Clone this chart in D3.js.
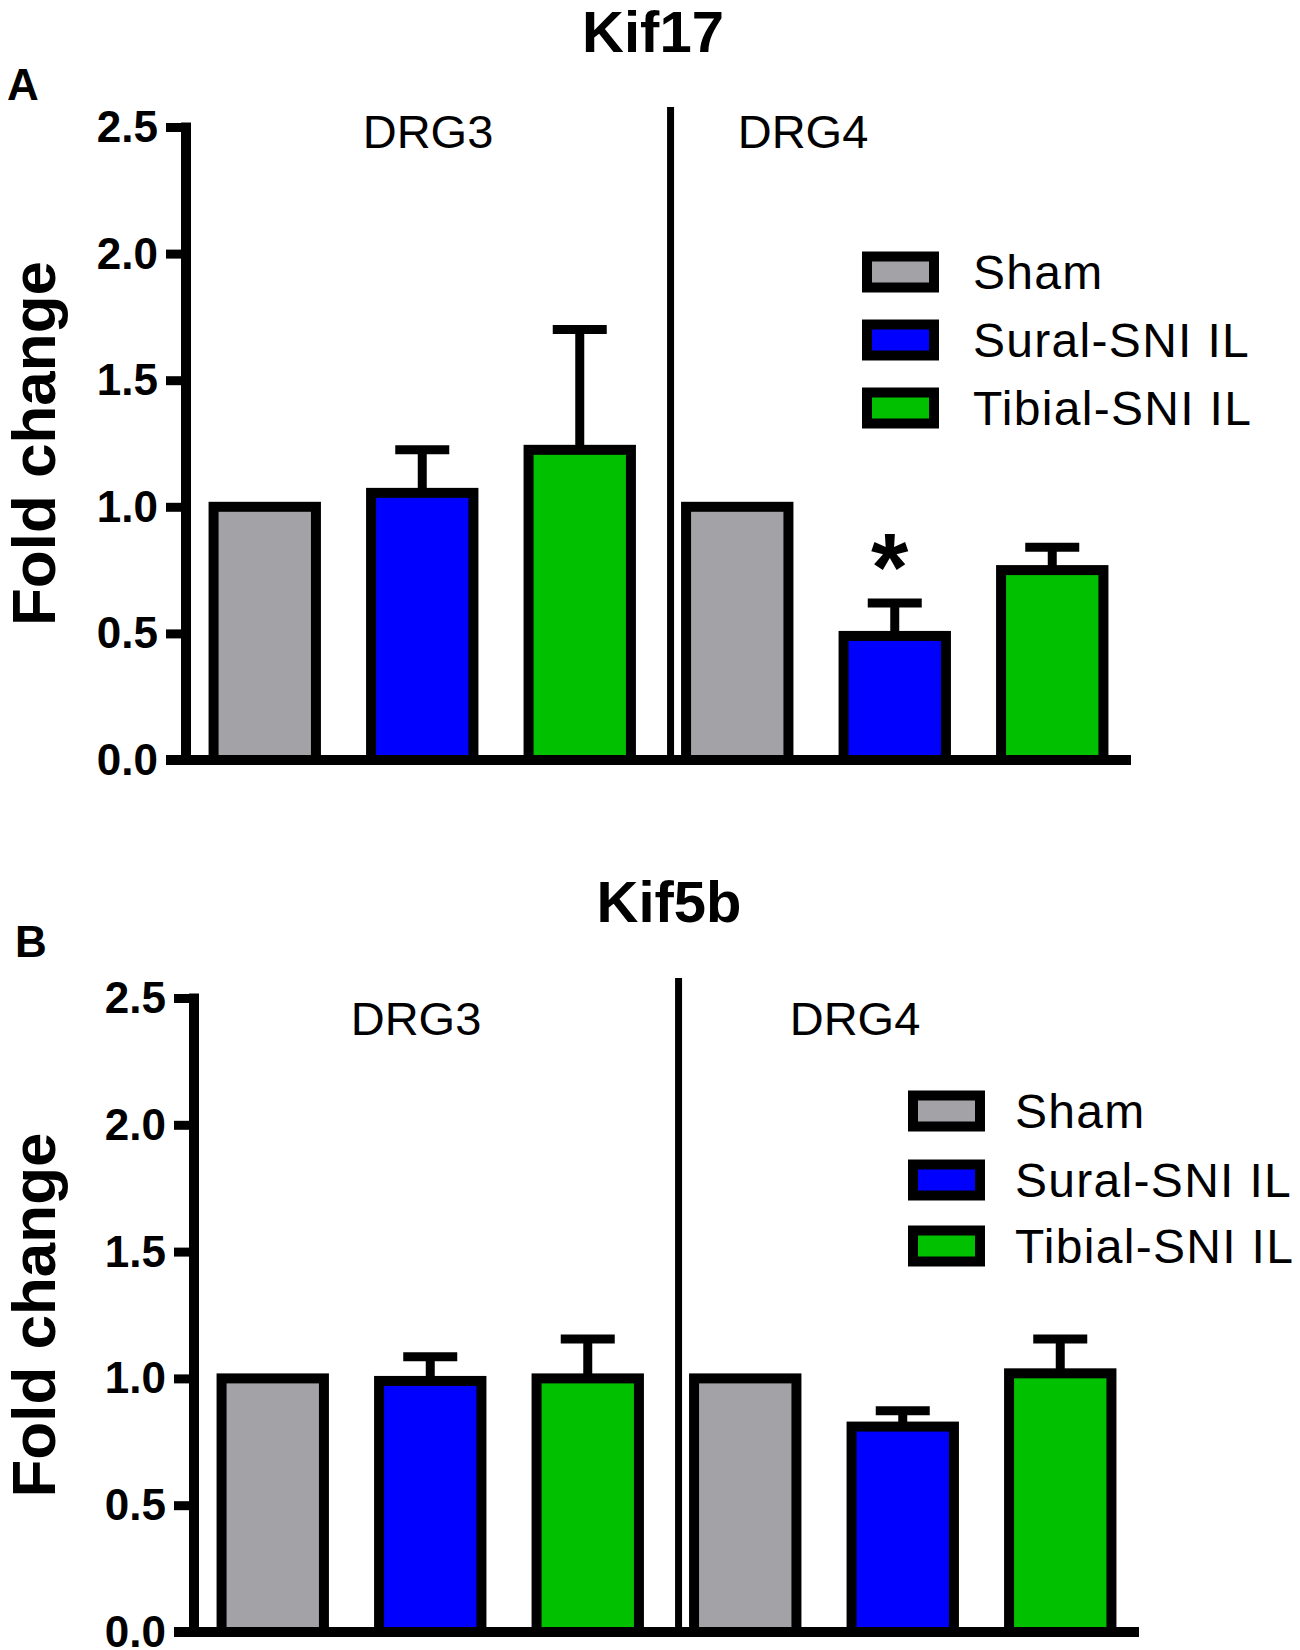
<!DOCTYPE html>
<html>
<head>
<meta charset="utf-8">
<script src="https://cdn.jsdelivr.net/npm/d3@7"></script>
<style>
  body { margin: 0; background: #fff; }
  svg text { font-family: 'Liberation Sans', Arial, sans-serif; fill: #000; }
</style>
</head>
<body>
<div id="chart"></div>
<script>
// categories
const groups = ['DRG3', 'DRG4'];
const series = ['Sham', 'Sural-SNI IL', 'Tibial-SNI IL'];
const colors = ['#a3a3a7', '#0000ff', '#00c000'];
const yTicks = [0, 0.5, 1.0, 1.5, 2.0, 2.5];

// Kif17 (panel A): means and mean+SEM, ordered DRG3 x3, DRG4 x3
const kif17Means = [1.0, 1.055, 1.225, 1.0, 0.49, 0.75];
const kif17Upper = [null, 1.225, 1.70, null, 0.62, 0.84];
const kif17Marks = ['', '', '', '', '*', ''];

// Kif5b (panel B)
const kif5bMeans = [1.0, 0.99, 1.0, 1.0, 0.81, 1.02];
const kif5bUpper = [null, 1.085, 1.155, null, 0.872, 1.155];
const kif5bMarks = ['', '', '', '', '', ''];

const W = 1300, H = 1650;
const svg = d3.select('#chart').append('svg')
  .attr('width', W).attr('height', H);

// layout of each panel (pixels)
const panels = [
  {
    title: 'Kif17', letter: 'A', means: kif17Means, upper: kif17Upper, marks: kif17Marks,
    axisX: 186, xEnd: 1131, yTop: 127, yBottom: 760,
    titleX: 653, titleY: 52, letterX: 7, letterY: 100,
    dividerTop: 107, groupLabelX: [428, 803], groupLabelY: 148,
    legendX: 867, legendRows: [272, 340, 408], legendTextX: 973,
    ylabelX: 55
  },
  {
    title: 'Kif5b', letter: 'B', means: kif5bMeans, upper: kif5bUpper, marks: kif5bMarks,
    axisX: 194, xEnd: 1139, yTop: 998, yBottom: 1632,
    titleX: 669, titleY: 922, letterX: 15, letterY: 957,
    dividerTop: 978, groupLabelX: [416, 855], groupLabelY: 1035,
    legendX: 913, legendRows: [1111, 1180, 1246], legendTextX: 1015,
    ylabelX: 55
  }
];

const cats = d3.range(groups.length * series.length);

panels.forEach(p => drawPanel(p));

function drawPanel(p) {
  const g = svg.append('g');

  const x = d3.scaleBand()
    .domain(cats)
    .range([p.axisX, p.xEnd])
    .paddingInner(0.35)
    .paddingOuter(0.175);

  const y = d3.scaleLinear()
    .domain([0, 2.5])
    .range([p.yBottom, p.yTop]);

  const bars = cats.map(i => ({
    i, mean: p.means[i], upper: p.upper[i], mark: p.marks[i],
    color: colors[i % series.length]
  }));

  // error bars (drawn first so the bar outline sits on top)
  const err = g.selectAll('.err')
    .data(bars.filter(d => d.upper != null))
    .enter().append('g');

  err.append('line')
    .attr('x1', d => x(d.i) + x.bandwidth() / 2)
    .attr('x2', d => x(d.i) + x.bandwidth() / 2)
    .attr('y1', d => y(d.mean))
    .attr('y2', d => y(d.upper))
    .attr('stroke', '#000').attr('stroke-width', 9);

  err.append('line')
    .attr('x1', d => x(d.i) + x.bandwidth() / 2 - 27)
    .attr('x2', d => x(d.i) + x.bandwidth() / 2 + 27)
    .attr('y1', d => y(d.upper))
    .attr('y2', d => y(d.upper))
    .attr('stroke', '#000').attr('stroke-width', 9);

  g.selectAll('.bar')
    .data(bars)
    .enter().append('rect')
    .attr('x', d => x(d.i))
    .attr('y', d => y(d.mean))
    .attr('width', x.bandwidth())
    .attr('height', d => y(0) - y(d.mean))
    .attr('fill', d => d.color)
    .attr('stroke', '#000')
    .attr('stroke-width', 10);

  // significance marks
  g.selectAll('.mark')
    .data(bars.filter(d => d.mark))
    .enter().append('text')
    .attr('x', d => x(d.i) + x.bandwidth() / 2 - 5)
    .attr('y', d => y(d.upper) - 3)
    .attr('text-anchor', 'middle')
    .style('font-size', '96px')
    .style('font-weight', 'bold')
    .text(d => d.mark);

  // divider between DRG3 and DRG4
  const divX = x(series.length) - 15.5;
  g.append('line')
    .attr('x1', divX).attr('x2', divX)
    .attr('y1', p.dividerTop).attr('y2', y(0))
    .attr('stroke', '#000').attr('stroke-width', 7);

  // y axis
  const yAxis = g.append('g')
    .attr('transform', `translate(${p.axisX},0)`)
    .call(d3.axisLeft(y)
      .tickValues(yTicks)
      .tickSize(20)
      .tickSizeOuter(0)
      .tickPadding(8)
      .tickFormat(d3.format('.1f')));
  yAxis.select('.domain')
    .attr('stroke', '#000').attr('stroke-width', 10)
    .attr('d', `M0,${p.yTop - 4.5}V${p.yBottom}`);
  yAxis.selectAll('.tick line').attr('stroke', '#000').attr('stroke-width', 9);
  yAxis.selectAll('.tick text')
    .style('font-size', '44px')
    .style('font-weight', 'bold')
    .attr('dy', '0.33em');

  // x axis baseline
  g.append('line')
    .attr('x1', p.axisX - 20).attr('x2', p.xEnd)
    .attr('y1', y(0)).attr('y2', y(0))
    .attr('stroke', '#000').attr('stroke-width', 10);

  // group labels
  g.selectAll('.grp')
    .data(groups)
    .enter().append('text')
    .attr('x', (d, i) => p.groupLabelX[i])
    .attr('y', p.groupLabelY)
    .attr('text-anchor', 'middle')
    .style('font-size', '47px')
    .text(d => d);

  // legend
  const leg = g.selectAll('.leg')
    .data(series)
    .enter().append('g')
    .attr('transform', (d, i) => `translate(0,${p.legendRows[i]})`);
  leg.append('rect')
    .attr('x', p.legendX).attr('y', -15.5)
    .attr('width', 67).attr('height', 31)
    .attr('fill', (d, i) => colors[i])
    .attr('stroke', '#000').attr('stroke-width', 10);
  leg.append('text')
    .attr('x', p.legendTextX)
    .attr('y', 17)
    .style('font-size', '48px')
    .style('letter-spacing', '1.3px')
    .text(d => d);

  // title, panel letter, y label
  g.append('text')
    .attr('x', p.titleX).attr('y', p.titleY)
    .attr('text-anchor', 'middle')
    .style('font-size', '58px').style('font-weight', 'bold')
    .text(p.title);

  g.append('text')
    .attr('x', p.letterX).attr('y', p.letterY)
    .style('font-size', '44px').style('font-weight', 'bold')
    .text(p.letter);

  g.append('text')
    .attr('transform', `translate(${p.ylabelX},${(p.yTop + p.yBottom) / 2}) rotate(-90)`)
    .attr('text-anchor', 'middle')
    .style('font-size', '62px').style('font-weight', 'bold')
    .text('Fold change');
}
</script>
</body>
</html>
